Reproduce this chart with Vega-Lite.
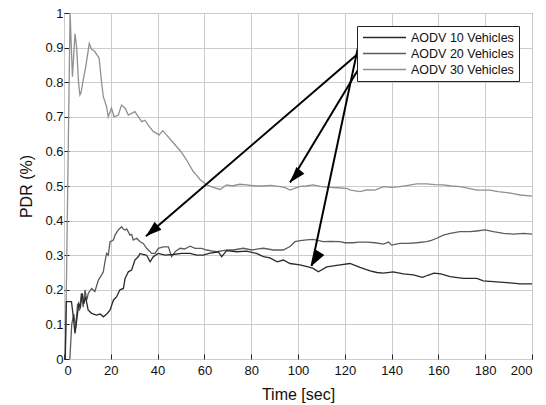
{
  "$schema": "https://vega.github.io/schema/vega-lite/v6.json",
  "width": 468,
  "height": 346,
  "autosize": {"type": "none"},
  "padding": {"left": 64, "top": 13, "right": 14, "bottom": 46},
  "background": "white",
  "config": {
    "view": {"stroke": "#222", "strokeWidth": 1},
    "font": "Liberation Sans",
    "axis": {
      "labelFont": "Liberation Sans",
      "labelFontSize": 13,
      "labelColor": "#111",
      "labelOverlap": false,
      "titleFont": "Liberation Sans",
      "titleFontSize": 16,
      "titleFontWeight": "normal",
      "titleColor": "#111",
      "gridColor": "#cccccc",
      "gridWidth": 1,
      "gridOpacity": 1,
      "domain": false,
      "tickColor": "#222",
      "tickSize": -5
    }
  },
  "datasets": {
    "lines": [
      {"series": "AODV 30 Vehicles", "t": 0.6, "pdr": 0},
      {"series": "AODV 30 Vehicles", "t": 2.6, "pdr": 1.0},
      {"series": "AODV 30 Vehicles", "t": 3.6, "pdr": 0.816},
      {"series": "AODV 30 Vehicles", "t": 4.7, "pdr": 0.94},
      {"series": "AODV 30 Vehicles", "t": 5.4, "pdr": 0.9},
      {"series": "AODV 30 Vehicles", "t": 6.2, "pdr": 0.8},
      {"series": "AODV 30 Vehicles", "t": 6.8, "pdr": 0.763},
      {"series": "AODV 30 Vehicles", "t": 7.3, "pdr": 0.77},
      {"series": "AODV 30 Vehicles", "t": 8.3, "pdr": 0.81},
      {"series": "AODV 30 Vehicles", "t": 9.3, "pdr": 0.845},
      {"series": "AODV 30 Vehicles", "t": 10.8, "pdr": 0.912},
      {"series": "AODV 30 Vehicles", "t": 11.8, "pdr": 0.895},
      {"series": "AODV 30 Vehicles", "t": 13, "pdr": 0.89},
      {"series": "AODV 30 Vehicles", "t": 14, "pdr": 0.88},
      {"series": "AODV 30 Vehicles", "t": 15, "pdr": 0.87},
      {"series": "AODV 30 Vehicles", "t": 16.1, "pdr": 0.797},
      {"series": "AODV 30 Vehicles", "t": 16.8, "pdr": 0.758},
      {"series": "AODV 30 Vehicles", "t": 18.2, "pdr": 0.729},
      {"series": "AODV 30 Vehicles", "t": 18.9, "pdr": 0.7},
      {"series": "AODV 30 Vehicles", "t": 20.3, "pdr": 0.725},
      {"series": "AODV 30 Vehicles", "t": 21.4, "pdr": 0.7},
      {"series": "AODV 30 Vehicles", "t": 23.2, "pdr": 0.705},
      {"series": "AODV 30 Vehicles", "t": 24.6, "pdr": 0.734},
      {"series": "AODV 30 Vehicles", "t": 26.1, "pdr": 0.725},
      {"series": "AODV 30 Vehicles", "t": 27.5, "pdr": 0.705},
      {"series": "AODV 30 Vehicles", "t": 28.9, "pdr": 0.71},
      {"series": "AODV 30 Vehicles", "t": 30.3, "pdr": 0.715},
      {"series": "AODV 30 Vehicles", "t": 31.8, "pdr": 0.7},
      {"series": "AODV 30 Vehicles", "t": 33.2, "pdr": 0.686},
      {"series": "AODV 30 Vehicles", "t": 34.6, "pdr": 0.69},
      {"series": "AODV 30 Vehicles", "t": 36, "pdr": 0.676},
      {"series": "AODV 30 Vehicles", "t": 38.2, "pdr": 0.657},
      {"series": "AODV 30 Vehicles", "t": 39.6, "pdr": 0.652},
      {"series": "AODV 30 Vehicles", "t": 40.6, "pdr": 0.647},
      {"series": "AODV 30 Vehicles", "t": 42.2, "pdr": 0.66},
      {"series": "AODV 30 Vehicles", "t": 43.9, "pdr": 0.647},
      {"series": "AODV 30 Vehicles", "t": 46.3, "pdr": 0.628},
      {"series": "AODV 30 Vehicles", "t": 48, "pdr": 0.615},
      {"series": "AODV 30 Vehicles", "t": 50, "pdr": 0.599},
      {"series": "AODV 30 Vehicles", "t": 52.4, "pdr": 0.575},
      {"series": "AODV 30 Vehicles", "t": 55.3, "pdr": 0.541},
      {"series": "AODV 30 Vehicles", "t": 56.8, "pdr": 0.53},
      {"series": "AODV 30 Vehicles", "t": 58.1, "pdr": 0.519},
      {"series": "AODV 30 Vehicles", "t": 61, "pdr": 0.503},
      {"series": "AODV 30 Vehicles", "t": 63.8, "pdr": 0.496},
      {"series": "AODV 30 Vehicles", "t": 66.7, "pdr": 0.49},
      {"series": "AODV 30 Vehicles", "t": 69.5, "pdr": 0.503},
      {"series": "AODV 30 Vehicles", "t": 72, "pdr": 0.5},
      {"series": "AODV 30 Vehicles", "t": 75, "pdr": 0.505},
      {"series": "AODV 30 Vehicles", "t": 78.1, "pdr": 0.503},
      {"series": "AODV 30 Vehicles", "t": 81.5, "pdr": 0.5},
      {"series": "AODV 30 Vehicles", "t": 85.2, "pdr": 0.5},
      {"series": "AODV 30 Vehicles", "t": 88.5, "pdr": 0.502},
      {"series": "AODV 30 Vehicles", "t": 92.3, "pdr": 0.498},
      {"series": "AODV 30 Vehicles", "t": 94.5, "pdr": 0.495},
      {"series": "AODV 30 Vehicles", "t": 96.6, "pdr": 0.488},
      {"series": "AODV 30 Vehicles", "t": 98.5, "pdr": 0.493},
      {"series": "AODV 30 Vehicles", "t": 100.9, "pdr": 0.499},
      {"series": "AODV 30 Vehicles", "t": 103.5, "pdr": 0.5},
      {"series": "AODV 30 Vehicles", "t": 106.5, "pdr": 0.503},
      {"series": "AODV 30 Vehicles", "t": 110, "pdr": 0.498},
      {"series": "AODV 30 Vehicles", "t": 113.7, "pdr": 0.496},
      {"series": "AODV 30 Vehicles", "t": 117, "pdr": 0.495},
      {"series": "AODV 30 Vehicles", "t": 120.8, "pdr": 0.493},
      {"series": "AODV 30 Vehicles", "t": 122.5, "pdr": 0.488},
      {"series": "AODV 30 Vehicles", "t": 126.5, "pdr": 0.484},
      {"series": "AODV 30 Vehicles", "t": 129.5, "pdr": 0.489},
      {"series": "AODV 30 Vehicles", "t": 132.9, "pdr": 0.488},
      {"series": "AODV 30 Vehicles", "t": 136.5, "pdr": 0.498},
      {"series": "AODV 30 Vehicles", "t": 140, "pdr": 0.496},
      {"series": "AODV 30 Vehicles", "t": 143.6, "pdr": 0.498},
      {"series": "AODV 30 Vehicles", "t": 147, "pdr": 0.502},
      {"series": "AODV 30 Vehicles", "t": 150.7, "pdr": 0.506},
      {"series": "AODV 30 Vehicles", "t": 155, "pdr": 0.506},
      {"series": "AODV 30 Vehicles", "t": 158.5, "pdr": 0.504},
      {"series": "AODV 30 Vehicles", "t": 162.1, "pdr": 0.503},
      {"series": "AODV 30 Vehicles", "t": 165.5, "pdr": 0.5},
      {"series": "AODV 30 Vehicles", "t": 169.2, "pdr": 0.498},
      {"series": "AODV 30 Vehicles", "t": 172.5, "pdr": 0.494},
      {"series": "AODV 30 Vehicles", "t": 176.4, "pdr": 0.488},
      {"series": "AODV 30 Vehicles", "t": 182, "pdr": 0.488},
      {"series": "AODV 30 Vehicles", "t": 185.5, "pdr": 0.484},
      {"series": "AODV 30 Vehicles", "t": 189.2, "pdr": 0.481},
      {"series": "AODV 30 Vehicles", "t": 192, "pdr": 0.478},
      {"series": "AODV 30 Vehicles", "t": 195, "pdr": 0.474},
      {"series": "AODV 30 Vehicles", "t": 200, "pdr": 0.471},

      {"series": "AODV 20 Vehicles", "t": 2.5, "pdr": 0},
      {"series": "AODV 20 Vehicles", "t": 3.3, "pdr": 0.1},
      {"series": "AODV 20 Vehicles", "t": 4.2, "pdr": 0.13},
      {"series": "AODV 20 Vehicles", "t": 5.0, "pdr": 0.09},
      {"series": "AODV 20 Vehicles", "t": 5.8, "pdr": 0.16},
      {"series": "AODV 20 Vehicles", "t": 6.6, "pdr": 0.14},
      {"series": "AODV 20 Vehicles", "t": 7.4, "pdr": 0.19},
      {"series": "AODV 20 Vehicles", "t": 8.2, "pdr": 0.15},
      {"series": "AODV 20 Vehicles", "t": 9.0, "pdr": 0.2},
      {"series": "AODV 20 Vehicles", "t": 9.7, "pdr": 0.17},
      {"series": "AODV 20 Vehicles", "t": 10.4, "pdr": 0.19},
      {"series": "AODV 20 Vehicles", "t": 11.8, "pdr": 0.204},
      {"series": "AODV 20 Vehicles", "t": 13.2, "pdr": 0.195},
      {"series": "AODV 20 Vehicles", "t": 14.7, "pdr": 0.228},
      {"series": "AODV 20 Vehicles", "t": 16.1, "pdr": 0.243},
      {"series": "AODV 20 Vehicles", "t": 16.8, "pdr": 0.252},
      {"series": "AODV 20 Vehicles", "t": 17.5, "pdr": 0.281},
      {"series": "AODV 20 Vehicles", "t": 18.2, "pdr": 0.305},
      {"series": "AODV 20 Vehicles", "t": 18.9, "pdr": 0.3},
      {"series": "AODV 20 Vehicles", "t": 19.7, "pdr": 0.339},
      {"series": "AODV 20 Vehicles", "t": 21.1, "pdr": 0.344},
      {"series": "AODV 20 Vehicles", "t": 21.8, "pdr": 0.358},
      {"series": "AODV 20 Vehicles", "t": 23.2, "pdr": 0.373},
      {"series": "AODV 20 Vehicles", "t": 24.6, "pdr": 0.382},
      {"series": "AODV 20 Vehicles", "t": 25.4, "pdr": 0.375},
      {"series": "AODV 20 Vehicles", "t": 26.1, "pdr": 0.373},
      {"series": "AODV 20 Vehicles", "t": 26.8, "pdr": 0.376},
      {"series": "AODV 20 Vehicles", "t": 28.2, "pdr": 0.358},
      {"series": "AODV 20 Vehicles", "t": 28.9, "pdr": 0.36},
      {"series": "AODV 20 Vehicles", "t": 29.6, "pdr": 0.344},
      {"series": "AODV 20 Vehicles", "t": 31.1, "pdr": 0.349},
      {"series": "AODV 20 Vehicles", "t": 32.5, "pdr": 0.339},
      {"series": "AODV 20 Vehicles", "t": 33.9, "pdr": 0.334},
      {"series": "AODV 20 Vehicles", "t": 35.3, "pdr": 0.32},
      {"series": "AODV 20 Vehicles", "t": 37.5, "pdr": 0.305},
      {"series": "AODV 20 Vehicles", "t": 38.9, "pdr": 0.305},
      {"series": "AODV 20 Vehicles", "t": 40.3, "pdr": 0.32},
      {"series": "AODV 20 Vehicles", "t": 42.4, "pdr": 0.324},
      {"series": "AODV 20 Vehicles", "t": 44.6, "pdr": 0.324},
      {"series": "AODV 20 Vehicles", "t": 46, "pdr": 0.296},
      {"series": "AODV 20 Vehicles", "t": 47.5, "pdr": 0.31},
      {"series": "AODV 20 Vehicles", "t": 49.6, "pdr": 0.32},
      {"series": "AODV 20 Vehicles", "t": 51.5, "pdr": 0.318},
      {"series": "AODV 20 Vehicles", "t": 53.9, "pdr": 0.326},
      {"series": "AODV 20 Vehicles", "t": 56, "pdr": 0.32},
      {"series": "AODV 20 Vehicles", "t": 58.8, "pdr": 0.32},
      {"series": "AODV 20 Vehicles", "t": 61, "pdr": 0.315},
      {"series": "AODV 20 Vehicles", "t": 63.5, "pdr": 0.312},
      {"series": "AODV 20 Vehicles", "t": 65.3, "pdr": 0.31},
      {"series": "AODV 20 Vehicles", "t": 68, "pdr": 0.313},
      {"series": "AODV 20 Vehicles", "t": 70, "pdr": 0.315},
      {"series": "AODV 20 Vehicles", "t": 72.4, "pdr": 0.315},
      {"series": "AODV 20 Vehicles", "t": 76.6, "pdr": 0.32},
      {"series": "AODV 20 Vehicles", "t": 80.2, "pdr": 0.315},
      {"series": "AODV 20 Vehicles", "t": 83, "pdr": 0.318},
      {"series": "AODV 20 Vehicles", "t": 85.2, "pdr": 0.32},
      {"series": "AODV 20 Vehicles", "t": 89.5, "pdr": 0.315},
      {"series": "AODV 20 Vehicles", "t": 93.7, "pdr": 0.315},
      {"series": "AODV 20 Vehicles", "t": 96.6, "pdr": 0.325},
      {"series": "AODV 20 Vehicles", "t": 98.7, "pdr": 0.339},
      {"series": "AODV 20 Vehicles", "t": 101, "pdr": 0.342},
      {"series": "AODV 20 Vehicles", "t": 103.7, "pdr": 0.344},
      {"series": "AODV 20 Vehicles", "t": 106.5, "pdr": 0.346},
      {"series": "AODV 20 Vehicles", "t": 110.8, "pdr": 0.339},
      {"series": "AODV 20 Vehicles", "t": 114, "pdr": 0.34},
      {"series": "AODV 20 Vehicles", "t": 117.9, "pdr": 0.339},
      {"series": "AODV 20 Vehicles", "t": 120, "pdr": 0.336},
      {"series": "AODV 20 Vehicles", "t": 123.6, "pdr": 0.336},
      {"series": "AODV 20 Vehicles", "t": 126, "pdr": 0.338},
      {"series": "AODV 20 Vehicles", "t": 129.3, "pdr": 0.338},
      {"series": "AODV 20 Vehicles", "t": 133, "pdr": 0.336},
      {"series": "AODV 20 Vehicles", "t": 136.5, "pdr": 0.332},
      {"series": "AODV 20 Vehicles", "t": 138.7, "pdr": 0.338},
      {"series": "AODV 20 Vehicles", "t": 140, "pdr": 0.329},
      {"series": "AODV 20 Vehicles", "t": 143.6, "pdr": 0.334},
      {"series": "AODV 20 Vehicles", "t": 147, "pdr": 0.334},
      {"series": "AODV 20 Vehicles", "t": 150.7, "pdr": 0.336},
      {"series": "AODV 20 Vehicles", "t": 155, "pdr": 0.339},
      {"series": "AODV 20 Vehicles", "t": 157, "pdr": 0.343},
      {"series": "AODV 20 Vehicles", "t": 159.3, "pdr": 0.349},
      {"series": "AODV 20 Vehicles", "t": 162.1, "pdr": 0.358},
      {"series": "AODV 20 Vehicles", "t": 165, "pdr": 0.363},
      {"series": "AODV 20 Vehicles", "t": 169.2, "pdr": 0.368},
      {"series": "AODV 20 Vehicles", "t": 173.5, "pdr": 0.368},
      {"series": "AODV 20 Vehicles", "t": 176.4, "pdr": 0.37},
      {"series": "AODV 20 Vehicles", "t": 180, "pdr": 0.373},
      {"series": "AODV 20 Vehicles", "t": 183.5, "pdr": 0.368},
      {"series": "AODV 20 Vehicles", "t": 187.8, "pdr": 0.363},
      {"series": "AODV 20 Vehicles", "t": 192.1, "pdr": 0.361},
      {"series": "AODV 20 Vehicles", "t": 196.4, "pdr": 0.363},
      {"series": "AODV 20 Vehicles", "t": 200, "pdr": 0.361},

      {"series": "AODV 10 Vehicles", "t": 0.5, "pdr": 0},
      {"series": "AODV 10 Vehicles", "t": 1.0, "pdr": 0.166},
      {"series": "AODV 10 Vehicles", "t": 3.2, "pdr": 0.166},
      {"series": "AODV 10 Vehicles", "t": 4.0, "pdr": 0.12},
      {"series": "AODV 10 Vehicles", "t": 4.7, "pdr": 0.074},
      {"series": "AODV 10 Vehicles", "t": 5.4, "pdr": 0.11},
      {"series": "AODV 10 Vehicles", "t": 6.3, "pdr": 0.16},
      {"series": "AODV 10 Vehicles", "t": 7.0, "pdr": 0.15},
      {"series": "AODV 10 Vehicles", "t": 7.8, "pdr": 0.19},
      {"series": "AODV 10 Vehicles", "t": 8.5, "pdr": 0.16},
      {"series": "AODV 10 Vehicles", "t": 9.2, "pdr": 0.18},
      {"series": "AODV 10 Vehicles", "t": 10.3, "pdr": 0.142},
      {"series": "AODV 10 Vehicles", "t": 11.8, "pdr": 0.132},
      {"series": "AODV 10 Vehicles", "t": 13.9, "pdr": 0.127},
      {"series": "AODV 10 Vehicles", "t": 15.5, "pdr": 0.13},
      {"series": "AODV 10 Vehicles", "t": 16.8, "pdr": 0.122},
      {"series": "AODV 10 Vehicles", "t": 18.3, "pdr": 0.13},
      {"series": "AODV 10 Vehicles", "t": 19.7, "pdr": 0.142},
      {"series": "AODV 10 Vehicles", "t": 21.1, "pdr": 0.17},
      {"series": "AODV 10 Vehicles", "t": 22.5, "pdr": 0.18},
      {"series": "AODV 10 Vehicles", "t": 23.9, "pdr": 0.2},
      {"series": "AODV 10 Vehicles", "t": 25.4, "pdr": 0.204},
      {"series": "AODV 10 Vehicles", "t": 26.1, "pdr": 0.233},
      {"series": "AODV 10 Vehicles", "t": 27.5, "pdr": 0.252},
      {"series": "AODV 10 Vehicles", "t": 28.9, "pdr": 0.257},
      {"series": "AODV 10 Vehicles", "t": 30.3, "pdr": 0.286},
      {"series": "AODV 10 Vehicles", "t": 31.8, "pdr": 0.296},
      {"series": "AODV 10 Vehicles", "t": 32.5, "pdr": 0.305},
      {"series": "AODV 10 Vehicles", "t": 33.9, "pdr": 0.302},
      {"series": "AODV 10 Vehicles", "t": 35.3, "pdr": 0.3},
      {"series": "AODV 10 Vehicles", "t": 36.8, "pdr": 0.281},
      {"series": "AODV 10 Vehicles", "t": 38.2, "pdr": 0.296},
      {"series": "AODV 10 Vehicles", "t": 40.3, "pdr": 0.305},
      {"series": "AODV 10 Vehicles", "t": 43.2, "pdr": 0.3},
      {"series": "AODV 10 Vehicles", "t": 46.5, "pdr": 0.302},
      {"series": "AODV 10 Vehicles", "t": 50.3, "pdr": 0.305},
      {"series": "AODV 10 Vehicles", "t": 53.9, "pdr": 0.305},
      {"series": "AODV 10 Vehicles", "t": 56.7, "pdr": 0.3},
      {"series": "AODV 10 Vehicles", "t": 59.5, "pdr": 0.3},
      {"series": "AODV 10 Vehicles", "t": 62, "pdr": 0.305},
      {"series": "AODV 10 Vehicles", "t": 65.9, "pdr": 0.31},
      {"series": "AODV 10 Vehicles", "t": 67.4, "pdr": 0.296},
      {"series": "AODV 10 Vehicles", "t": 69.5, "pdr": 0.313},
      {"series": "AODV 10 Vehicles", "t": 73.8, "pdr": 0.31},
      {"series": "AODV 10 Vehicles", "t": 78, "pdr": 0.312},
      {"series": "AODV 10 Vehicles", "t": 82.3, "pdr": 0.305},
      {"series": "AODV 10 Vehicles", "t": 85.2, "pdr": 0.296},
      {"series": "AODV 10 Vehicles", "t": 88, "pdr": 0.292},
      {"series": "AODV 10 Vehicles", "t": 91.1, "pdr": 0.281},
      {"series": "AODV 10 Vehicles", "t": 93.7, "pdr": 0.286},
      {"series": "AODV 10 Vehicles", "t": 96.6, "pdr": 0.276},
      {"series": "AODV 10 Vehicles", "t": 100.8, "pdr": 0.272},
      {"series": "AODV 10 Vehicles", "t": 104.4, "pdr": 0.266},
      {"series": "AODV 10 Vehicles", "t": 106.5, "pdr": 0.262},
      {"series": "AODV 10 Vehicles", "t": 108.7, "pdr": 0.252},
      {"series": "AODV 10 Vehicles", "t": 112.3, "pdr": 0.266},
      {"series": "AODV 10 Vehicles", "t": 118, "pdr": 0.272},
      {"series": "AODV 10 Vehicles", "t": 122.2, "pdr": 0.276},
      {"series": "AODV 10 Vehicles", "t": 126.5, "pdr": 0.265},
      {"series": "AODV 10 Vehicles", "t": 130.8, "pdr": 0.255},
      {"series": "AODV 10 Vehicles", "t": 133.7, "pdr": 0.25},
      {"series": "AODV 10 Vehicles", "t": 136.5, "pdr": 0.248},
      {"series": "AODV 10 Vehicles", "t": 140.7, "pdr": 0.252},
      {"series": "AODV 10 Vehicles", "t": 145, "pdr": 0.246},
      {"series": "AODV 10 Vehicles", "t": 149.3, "pdr": 0.243},
      {"series": "AODV 10 Vehicles", "t": 153.2, "pdr": 0.236},
      {"series": "AODV 10 Vehicles", "t": 155.5, "pdr": 0.242},
      {"series": "AODV 10 Vehicles", "t": 158.1, "pdr": 0.248},
      {"series": "AODV 10 Vehicles", "t": 161, "pdr": 0.246},
      {"series": "AODV 10 Vehicles", "t": 165, "pdr": 0.238},
      {"series": "AODV 10 Vehicles", "t": 170.7, "pdr": 0.233},
      {"series": "AODV 10 Vehicles", "t": 176.4, "pdr": 0.233},
      {"series": "AODV 10 Vehicles", "t": 179.2, "pdr": 0.226},
      {"series": "AODV 10 Vehicles", "t": 184.9, "pdr": 0.223},
      {"series": "AODV 10 Vehicles", "t": 190.6, "pdr": 0.22},
      {"series": "AODV 10 Vehicles", "t": 195, "pdr": 0.217},
      {"series": "AODV 10 Vehicles", "t": 200, "pdr": 0.217}
    ],
    "arrows": [
      {"arrow": "A", "x": 126.5, "y": 0.887, "x2": 35.0, "y2": 0.355},
      {"arrow": "B", "x": 125.6, "y": 0.835, "x2": 96.6, "y2": 0.51},
      {"arrow": "C", "x": 126.5, "y": 0.928, "x2": 105.8, "y2": 0.269}
    ]
  },
  "layer": [
    {
      "data": {"name": "lines"},
      "mark": {"type": "line", "strokeWidth": 1.3},
      "encoding": {
        "x": {
          "field": "t", "type": "quantitative", "title": "Time [sec]",
          "scale": {"domain": [0, 200], "nice": false},
          "axis": {"values": [0, 20, 40, 60, 80, 100, 120, 140, 160, 180, 200], "tickCount": 12, "format": "~r", "labelPadding": 10, "titlePadding": 9, "labelOverlap": false}
        },
        "y": {
          "field": "pdr", "type": "quantitative", "title": "PDR (%)",
          "scale": {"domain": [0, 1], "nice": false},
          "axis": {"values": [0, 0.1, 0.2, 0.3, 0.4, 0.5, 0.6, 0.7, 0.8, 0.9, 1], "tickCount": 12, "format": "~r", "labelPadding": 6, "titlePadding": 10, "labelOverlap": false}
        },
        "color": {
          "field": "series", "type": "nominal",
          "scale": {"domain": ["AODV 10 Vehicles", "AODV 20 Vehicles", "AODV 30 Vehicles"], "range": ["#2a2a2a", "#5c5c5c", "#909090"]},
          "legend": {
            "title": null, "orient": "top-right", "offset": 13,
            "fillColor": "white", "strokeColor": "#222", "padding": 5,
            "symbolType": "M-4,0H4", "symbolSize": 116, "symbolStrokeWidth": 1.3,
            "symbolOffset": 16, "labelOffset": 20,
            "labelFont": "Liberation Sans", "labelFontSize": 12.5, "labelColor": "#111",
            "rowPadding": 3
          }
        }
      }
    },
    {
      "data": {"name": "arrows"},
      "mark": {"type": "rule", "color": "black", "strokeWidth": 2},
      "encoding": {
        "x": {"field": "x", "type": "quantitative", "title": "Time [sec]",
          "axis": {"values": [0, 20, 40, 60, 80, 100, 120, 140, 160, 180, 200], "tickCount": 12, "format": "~r", "labelPadding": 10, "titlePadding": 9, "labelOverlap": false}},
        "y": {"field": "y", "type": "quantitative", "title": "PDR (%)",
          "axis": {"values": [0, 0.1, 0.2, 0.3, 0.4, 0.5, 0.6, 0.7, 0.8, 0.9, 1], "tickCount": 12, "format": "~r", "labelPadding": 6, "titlePadding": 10, "labelOverlap": false}},
        "x2": {"field": "x2"},
        "y2": {"field": "y2"}
      }
    },
    {
      "data": {"name": "arrows"},
      "mark": {"type": "point", "shape": "M0,0L-0.65,2L0.65,2Z", "filled": true, "color": "black", "size": 256, "opacity": 1},
      "encoding": {
        "x": {"field": "x2", "type": "quantitative", "title": "Time [sec]",
          "axis": {"values": [0, 20, 40, 60, 80, 100, 120, 140, 160, 180, 200], "tickCount": 12, "format": "~r", "labelPadding": 10, "titlePadding": 9, "labelOverlap": false}},
        "y": {"field": "y2", "type": "quantitative", "title": "PDR (%)",
          "axis": {"values": [0, 0.1, 0.2, 0.3, 0.4, 0.5, 0.6, 0.7, 0.8, 0.9, 1], "tickCount": 12, "format": "~r", "labelPadding": 6, "titlePadding": 10, "labelOverlap": false}},
        "angle": {"field": "arrow", "type": "nominal", "scale": {"domain": ["A", "B", "C"], "range": [229.3, 211.3, 192]}, "legend": null}
      }
    }
  ]
}
